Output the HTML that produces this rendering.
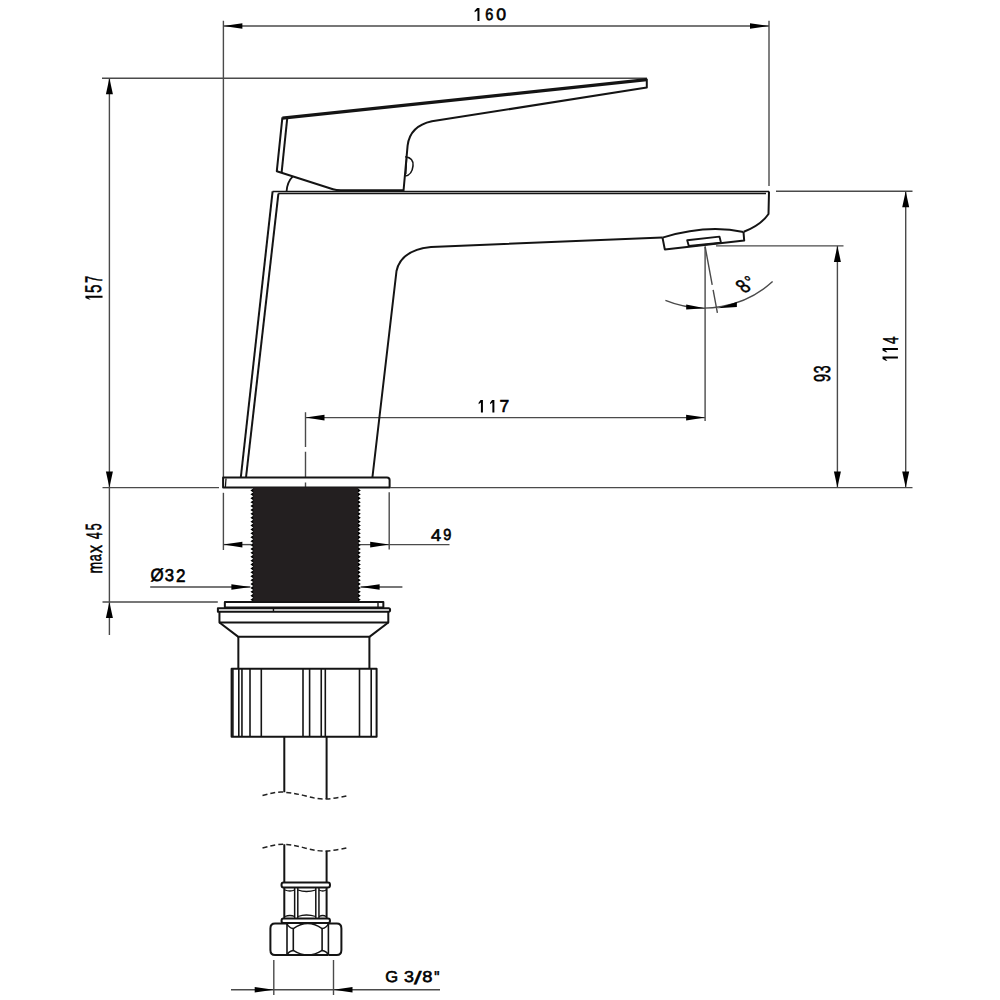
<!DOCTYPE html>
<html><head><meta charset="utf-8"><title>Faucet drawing</title>
<style>html,body{margin:0;padding:0;background:#fff;width:1000px;height:1000px;overflow:hidden}svg{display:block}</style>
</head><body>
<svg width="1000" height="1000" viewBox="0 0 1000 1000">
<rect width="1000" height="1000" fill="#fff"/>
<line x1="223.4" y1="20.8" x2="223.4" y2="477.5" stroke="#4a4a4a" stroke-width="1.4" />
<line x1="769" y1="20.8" x2="769" y2="186" stroke="#4a4a4a" stroke-width="1.4" />
<line x1="223.4" y1="26" x2="769" y2="26" stroke="#4a4a4a" stroke-width="1.4" />
<polygon points="223.40,26.00 242.40,23.20 242.40,28.80" fill="#000"/>
<polygon points="769.00,26.00 750.00,23.20 750.00,28.80" fill="#000"/>
<line x1="102" y1="78.3" x2="647" y2="78.3" stroke="#4a4a4a" stroke-width="1.4" />
<line x1="109.4" y1="78.3" x2="109.4" y2="635" stroke="#4a4a4a" stroke-width="1.4" />
<polygon points="109.40,78.30 105.90,94.30 112.90,94.30" fill="#000"/>
<polygon points="109.40,487.50 105.90,471.50 112.90,471.50" fill="#000"/>
<polygon points="109.40,602.00 105.90,618.00 112.90,618.00" fill="#000"/>
<line x1="102.5" y1="487.6" x2="219" y2="487.6" stroke="#4a4a4a" stroke-width="1.4" />
<line x1="390.3" y1="487.6" x2="912.5" y2="487.6" stroke="#4a4a4a" stroke-width="1.4" />
<line x1="102.5" y1="602" x2="217.8" y2="602" stroke="#4a4a4a" stroke-width="1.4" />
<line x1="776" y1="191.3" x2="912.5" y2="191.3" stroke="#4a4a4a" stroke-width="1.4" />
<line x1="905.7" y1="191.3" x2="905.7" y2="487.6" stroke="#4a4a4a" stroke-width="1.4" />
<polygon points="905.70,191.30 902.20,207.30 909.20,207.30" fill="#000"/>
<polygon points="905.70,487.60 902.20,471.60 909.20,471.60" fill="#000"/>
<line x1="716" y1="245.9" x2="843.5" y2="245.9" stroke="#4a4a4a" stroke-width="1.4" />
<line x1="837.4" y1="245.9" x2="837.4" y2="487.6" stroke="#4a4a4a" stroke-width="1.4" />
<polygon points="837.40,245.90 833.90,261.90 840.90,261.90" fill="#000"/>
<polygon points="837.40,487.60 833.90,471.60 840.90,471.60" fill="#000"/>
<line x1="305.5" y1="417.6" x2="705.1" y2="417.6" stroke="#4a4a4a" stroke-width="1.4" />
<polygon points="305.50,417.60 324.50,414.80 324.50,420.40" fill="#000"/>
<polygon points="705.10,417.60 686.10,414.80 686.10,420.40" fill="#000"/>
<line x1="705.1" y1="246.5" x2="705.1" y2="421" stroke="#4a4a4a" stroke-width="1.4" />
<path d="M305.5 412.2 V447 M305.5 451.8 V478 M305.5 482.4 V487.4" stroke="#4a4a4a" stroke-width="1.4" fill="none"/>
<line x1="223.4" y1="492.8" x2="223.4" y2="550" stroke="#4a4a4a" stroke-width="1.4" />
<line x1="389.2" y1="492.2" x2="389.2" y2="549.5" stroke="#4a4a4a" stroke-width="1.4" />
<line x1="223.4" y1="544.6" x2="251" y2="544.6" stroke="#4a4a4a" stroke-width="1.4" />
<line x1="360" y1="544.6" x2="449.5" y2="544.6" stroke="#4a4a4a" stroke-width="1.4" />
<polygon points="223.40,544.60 242.40,541.80 242.40,547.40" fill="#000"/>
<polygon points="389.20,544.60 370.20,541.80 370.20,547.40" fill="#000"/>
<line x1="150.2" y1="587" x2="250.4" y2="587" stroke="#4a4a4a" stroke-width="1.4" />
<line x1="360.6" y1="587" x2="402.4" y2="587" stroke="#4a4a4a" stroke-width="1.4" />
<polygon points="250.40,587.00 231.40,584.20 231.40,589.80" fill="#000"/>
<polygon points="360.60,587.00 379.60,584.20 379.60,589.80" fill="#000"/>
<line x1="273.8" y1="960" x2="273.8" y2="995" stroke="#4a4a4a" stroke-width="1.4" />
<line x1="333.5" y1="960" x2="333.5" y2="995" stroke="#4a4a4a" stroke-width="1.4" />
<line x1="231" y1="989.8" x2="440" y2="989.8" stroke="#4a4a4a" stroke-width="1.4" />
<polygon points="273.70,989.80 254.70,987.00 254.70,992.60" fill="#000"/>
<polygon points="333.50,989.80 352.50,987.00 352.50,992.60" fill="#000"/>
<line x1="705.1" y1="246.5" x2="717.4" y2="312.8" stroke="#4a4a4a" stroke-width="1.4" stroke-dasharray="39 5 40"/>
<path d="M665.4 300.4 A102 102 0 0 0 772.6 281.6" stroke="#4a4a4a" stroke-width="1.4" fill="none"/>
<polygon points="705.10,308.30 686.20,304.60 686.20,309.60" fill="#000"/>
<polygon points="717.40,308.30 736.90,302.00 736.90,307.00" fill="#000"/>
<path d="M282.4 118.2 L646.8 79.6" stroke="#141414" stroke-width="3.3" fill="none" stroke-linejoin="round" />
<path d="M282.4 117.3 L276.8 171.2 L333 189.3 Q336 190.2 341 190.2 L404 190.2" stroke="#141414" stroke-width="2.0" fill="none" stroke-linejoin="round" />
<path d="M287.2 118.7 L281.6 172.6" stroke="#141414" stroke-width="2.0" fill="none" stroke-linejoin="round" />
<path d="M646.8 78.8 L646.8 87.6 L431.9 121.3 Q410 126 407.6 145.6 L403.5 191" stroke="#141414" stroke-width="2.0" fill="none" stroke-linejoin="round" />
<path d="M405.2 156.8 Q414 158 413 166 Q412 175 405.2 176" stroke="#141414" stroke-width="1.6" fill="none" stroke-linejoin="round" />
<path d="M406.6 158.5 L405.8 174" stroke="#141414" stroke-width="1.4" fill="none" stroke-linejoin="round" />
<path d="M292.6 176.6 Q287.2 182 286.6 191.2" stroke="#141414" stroke-width="1.8" fill="none" stroke-linejoin="round" />
<path d="M272.6 191.4 L769 191.4" stroke="#141414" stroke-width="1.5" fill="none" stroke-linejoin="round" />
<path d="M278.2 193.5 L766 193.5" stroke="#141414" stroke-width="1.5" fill="none" stroke-linejoin="round" />
<path d="M272.6 191.4 L240.8 477.5" stroke="#141414" stroke-width="2.0" fill="none" stroke-linejoin="round" />
<path d="M278.4 193.6 L246 477.5" stroke="#141414" stroke-width="2.0" fill="none" stroke-linejoin="round" />
<path d="M769 191.4 L768.5 214 Q761 225 743.8 231.8" stroke="#141414" stroke-width="2.0" fill="none" stroke-linejoin="round" />
<path d="M743.5 232 Q707 224 662.5 237.6" stroke="#141414" stroke-width="2.0" fill="none" stroke-linejoin="round" />
<path d="M662.5 237.6 L664.8 249.4 L744.2 240.6 L743.5 232" stroke="#141414" stroke-width="2.0" fill="none" stroke-linejoin="round" />
<path d="M687.2 240.2 L719.5 236.6 L721 242.8 L688.8 246 Z" stroke="#141414" stroke-width="1.9" fill="none" stroke-linejoin="round" />
<path d="M662.5 237.6 L431 247 Q401 250 396.5 271 L372.4 477.5" stroke="#141414" stroke-width="2.0" fill="none" stroke-linejoin="round" />
<path d="M223.1 477.5 H387 Q389.6 477.5 389.6 480 V487.4 H223.1 Z" stroke="#141414" stroke-width="2.0" fill="none" stroke-linejoin="round" />
<path d="M226 478.5 L225.4 487" stroke="#141414" stroke-width="1.3" fill="none" stroke-linejoin="round" />
<rect x="253" y="487.4" width="105.2" height="114" fill="#231f20"/>
<path d="M253.2 488.5 l-2.8 1.95 l2.8 1.95 Z M358 488.5 l2.8 1.95 l-2.8 1.95 Z M253.2 492.4 l-2.8 1.95 l2.8 1.95 Z M358 492.4 l2.8 1.95 l-2.8 1.95 Z M253.2 496.3 l-2.8 1.95 l2.8 1.95 Z M358 496.3 l2.8 1.95 l-2.8 1.95 Z M253.2 500.2 l-2.8 1.95 l2.8 1.95 Z M358 500.2 l2.8 1.95 l-2.8 1.95 Z M253.2 504.1 l-2.8 1.95 l2.8 1.95 Z M358 504.1 l2.8 1.95 l-2.8 1.95 Z M253.2 508.0 l-2.8 1.95 l2.8 1.95 Z M358 508.0 l2.8 1.95 l-2.8 1.95 Z M253.2 511.9 l-2.8 1.95 l2.8 1.95 Z M358 511.9 l2.8 1.95 l-2.8 1.95 Z M253.2 515.8 l-2.8 1.95 l2.8 1.95 Z M358 515.8 l2.8 1.95 l-2.8 1.95 Z M253.2 519.7 l-2.8 1.95 l2.8 1.95 Z M358 519.7 l2.8 1.95 l-2.8 1.95 Z M253.2 523.6 l-2.8 1.95 l2.8 1.95 Z M358 523.6 l2.8 1.95 l-2.8 1.95 Z M253.2 527.5 l-2.8 1.95 l2.8 1.95 Z M358 527.5 l2.8 1.95 l-2.8 1.95 Z M253.2 531.4 l-2.8 1.95 l2.8 1.95 Z M358 531.4 l2.8 1.95 l-2.8 1.95 Z M253.2 535.3 l-2.8 1.95 l2.8 1.95 Z M358 535.3 l2.8 1.95 l-2.8 1.95 Z M253.2 539.2 l-2.8 1.95 l2.8 1.95 Z M358 539.2 l2.8 1.95 l-2.8 1.95 Z M253.2 543.1 l-2.8 1.95 l2.8 1.95 Z M358 543.1 l2.8 1.95 l-2.8 1.95 Z M253.2 547.0 l-2.8 1.95 l2.8 1.95 Z M358 547.0 l2.8 1.95 l-2.8 1.95 Z M253.2 550.9 l-2.8 1.95 l2.8 1.95 Z M358 550.9 l2.8 1.95 l-2.8 1.95 Z M253.2 554.8 l-2.8 1.95 l2.8 1.95 Z M358 554.8 l2.8 1.95 l-2.8 1.95 Z M253.2 558.7 l-2.8 1.95 l2.8 1.95 Z M358 558.7 l2.8 1.95 l-2.8 1.95 Z M253.2 562.6 l-2.8 1.95 l2.8 1.95 Z M358 562.6 l2.8 1.95 l-2.8 1.95 Z M253.2 566.5 l-2.8 1.95 l2.8 1.95 Z M358 566.5 l2.8 1.95 l-2.8 1.95 Z M253.2 570.4 l-2.8 1.95 l2.8 1.95 Z M358 570.4 l2.8 1.95 l-2.8 1.95 Z M253.2 574.3 l-2.8 1.95 l2.8 1.95 Z M358 574.3 l2.8 1.95 l-2.8 1.95 Z M253.2 578.2 l-2.8 1.95 l2.8 1.95 Z M358 578.2 l2.8 1.95 l-2.8 1.95 Z M253.2 582.1 l-2.8 1.95 l2.8 1.95 Z M358 582.1 l2.8 1.95 l-2.8 1.95 Z M253.2 586.0 l-2.8 1.95 l2.8 1.95 Z M358 586.0 l2.8 1.95 l-2.8 1.95 Z M253.2 589.9 l-2.8 1.95 l2.8 1.95 Z M358 589.9 l2.8 1.95 l-2.8 1.95 Z M253.2 593.8 l-2.8 1.95 l2.8 1.95 Z M358 593.8 l2.8 1.95 l-2.8 1.95 Z M253.2 597.7 l-2.8 1.95 l2.8 1.95 Z M358 597.7 l2.8 1.95 l-2.8 1.95 Z" fill="#000" stroke="none"/>
<path d="M224.85 602 H383.35 V607.6 H224.85 Z" stroke="#141414" stroke-width="2.0" fill="none" stroke-linejoin="round" />
<path d="M378 602.5 V607.2" stroke="#141414" stroke-width="1.4" fill="none" stroke-linejoin="round" />
<path d="M217.9 608.3 H388.6 Q390.1 608.3 390.1 610 Q390.1 611.65 388.6 611.65 H217.9 Q217.9 610 217.9 608.3 Z" stroke="#141414" stroke-width="2.0" fill="none" stroke-linejoin="round" />
<path d="M273.45 608.3 V611.6" stroke="#141414" stroke-width="1.4" fill="none" stroke-linejoin="round" />
<path d="M219.45 611.65 V622.45 H388.3 V611.65" stroke="#141414" stroke-width="2.0" fill="none" stroke-linejoin="round" />
<path d="M219.45 622.45 L238.35 636.85 H369.4 L388.3 622.45" stroke="#141414" stroke-width="2.0" fill="none" stroke-linejoin="round" />
<path d="M238.35 636.85 V668.8 M369.4 636.85 V668.8" stroke="#141414" stroke-width="2.0" fill="none" stroke-linejoin="round" />
<path d="M231.6 668.8 H376.6 V736.8 H231.6 Z" stroke="#141414" stroke-width="2.0" fill="none" stroke-linejoin="round" />
<path d="M232.9 669 V736.6" stroke="#141414" stroke-width="1.6" fill="none" stroke-linejoin="round" />
<path d="M238.8 669 V736.6" stroke="#141414" stroke-width="1.6" fill="none" stroke-linejoin="round" />
<path d="M241.95 669 V736.6" stroke="#141414" stroke-width="1.6" fill="none" stroke-linejoin="round" />
<path d="M250 669 V736.6" stroke="#141414" stroke-width="1.6" fill="none" stroke-linejoin="round" />
<path d="M261.3 669 V736.6" stroke="#141414" stroke-width="1.6" fill="none" stroke-linejoin="round" />
<path d="M303 669 V736.6" stroke="#141414" stroke-width="1.6" fill="none" stroke-linejoin="round" />
<path d="M309.6 669 V736.6" stroke="#141414" stroke-width="1.6" fill="none" stroke-linejoin="round" />
<path d="M321.25 669 V736.6" stroke="#141414" stroke-width="1.6" fill="none" stroke-linejoin="round" />
<path d="M325.3 669 V736.6" stroke="#141414" stroke-width="1.6" fill="none" stroke-linejoin="round" />
<path d="M359.5 669 V736.6" stroke="#141414" stroke-width="1.6" fill="none" stroke-linejoin="round" />
<path d="M371.2 669 V736.6" stroke="#141414" stroke-width="1.6" fill="none" stroke-linejoin="round" />
<path d="M284.3 736.8 V792.2 M326.6 736.8 V799" stroke="#141414" stroke-width="2.0" fill="none" stroke-linejoin="round" />
<path d="M262.5 795.5 C272 793 278 791.5 284 792.2 C292 793 298 794 305 795.8 C313 798 320 799.5 326.5 799 C334 798.5 342 797 348.5 795.5" stroke="#222" stroke-width="1.5" fill="none" stroke-dasharray="5 3"/>
<path d="M262.5 848 C272 845.5 278 844 284 844.2 C292 845 298 846 305 848 C313 850 320 851.5 326.5 851 C334 850.5 342 849 348.5 847.5" stroke="#222" stroke-width="1.5" fill="none" stroke-dasharray="5 3"/>
<path d="M284.3 844.2 V882.6 M326.6 851 V882.6" stroke="#141414" stroke-width="2.0" fill="none" stroke-linejoin="round" />
<path d="M283.5 882.6 H328 Q330 882.6 330 885 Q330 887.5 328 887.5 H283.5 Q281.5 887.5 281.5 885 Q281.5 882.6 283.5 882.6 Z" stroke="#141414" stroke-width="2.0" fill="none" stroke-linejoin="round" />
<path d="M284.3 887.5 V918.6 M326.6 887.5 V918.6" stroke="#141414" stroke-width="2.0" fill="none" stroke-linejoin="round" />
<path d="M294.65 888 V918 M297.8 888 V918 M315.8 888 V918 M318.95 888 V918" stroke="#141414" stroke-width="1.5" fill="none" stroke-linejoin="round" />
<path d="M285 890 Q290 892 294.6 890 M298 890 Q306 893 315.8 890 M319 890 Q323 892 326 890" stroke="#141414" stroke-width="1.3" fill="none" stroke-linejoin="round" />
<path d="M285 916.5 Q290 914.5 294.6 916.5 M298 916.5 Q306 913.5 315.8 916.5 M319 916.5 Q323 914.5 326 916.5" stroke="#141414" stroke-width="1.3" fill="none" stroke-linejoin="round" />
<path d="M283.5 918.6 H328 Q330 918.6 330 921 Q330 923.1 328 923.1 H283.5 Q281.5 923.1 281.5 921 Q281.5 918.6 283.5 918.6 Z" stroke="#141414" stroke-width="2.0" fill="none" stroke-linejoin="round" />
<path d="M287 923.6 H275 Q270.4 923.6 270.4 928.5 V950 Q270.4 955 275 955 H287" stroke="#141414" stroke-width="2.0" fill="none" stroke-linejoin="round" />
<path d="M328.4 923.6 H336.8 Q341.4 923.6 341.4 928.5 V950 Q341.4 955 336.8 955 H328.4" stroke="#141414" stroke-width="2.0" fill="none" stroke-linejoin="round" />
<path d="M287 955 H328.4" stroke="#141414" stroke-width="2.0" fill="none" stroke-linejoin="round" />
<path d="M287 923.6 V955 M328.4 923.6 V955" stroke="#141414" stroke-width="1.6" fill="none" stroke-linejoin="round" />
<path d="M293.3 928.6 V950.4 M322.1 928.6 V950.4" stroke="#141414" stroke-width="1.6" fill="none" stroke-linejoin="round" />
<path d="M287 923.8 Q289 928 293.3 928.6 Q307.7 918.4 322.1 928.6 Q326.4 928 328.4 923.8" stroke="#141414" stroke-width="1.5" fill="none" stroke-linejoin="round" />
<path d="M287 954.8 Q289 950.8 293.3 950.4 Q307.7 959.8 322.1 950.4 Q326.4 950.8 328.4 954.8" stroke="#141414" stroke-width="1.5" fill="none" stroke-linejoin="round" />
<polygon points="0.507,0.000 1.000,0.000 1.000,1.000 0.587,1.000 0.587,0.190 0.000,0.335 0.000,0.220" fill="#000" transform="matrix(4.840,0,0,13.000,474.62,8.00)"/>
<text x="0" y="0" font-size="100" font-family="Liberation Sans, sans-serif" text-rendering="geometricPrecision" fill="#000" stroke="#000" stroke-width="3.85" transform="translate(485.19,19.83) scale(0.1457,0.1659)">6</text>
<text x="0" y="0" font-size="100" font-family="Liberation Sans, sans-serif" text-rendering="geometricPrecision" fill="#000" stroke="#000" stroke-width="3.50" transform="translate(496.13,19.83) scale(0.1768,0.1659)">0</text>
<polygon points="0.455,0.000 1.000,0.000 1.000,1.000 0.535,1.000 0.535,0.197 0.000,0.340 0.000,0.220" fill="#000" transform="matrix(4.300,0,0,12.460,478.62,400.08)"/>
<polygon points="0.455,0.000 1.000,0.000 1.000,1.000 0.535,1.000 0.535,0.197 0.000,0.340 0.000,0.220" fill="#000" transform="matrix(4.300,0,0,12.460,490.08,400.08)"/>
<text x="0" y="0" font-size="100" font-family="Liberation Sans, sans-serif" text-rendering="geometricPrecision" fill="#000" stroke="#000" stroke-width="3.45" transform="translate(499.43,412.24) scale(0.1745,0.1730)">7</text>
<text x="0" y="0" font-size="100" font-family="Liberation Sans, sans-serif" text-rendering="geometricPrecision" fill="#000" stroke="#000" stroke-width="3.41" transform="translate(431.04,540.66) scale(0.1818,0.1702)">4</text>
<text x="0" y="0" font-size="100" font-family="Liberation Sans, sans-serif" text-rendering="geometricPrecision" fill="#000" stroke="#000" stroke-width="3.90" transform="translate(443.18,539.53) scale(0.1458,0.1615)">9</text>
<text x="0" y="0" font-size="100" font-family="Liberation Sans, sans-serif" text-rendering="geometricPrecision" fill="#000" stroke="#000" stroke-width="3.45" transform="translate(150.40,581.17) scale(0.1694,0.1789)">Ø</text>
<text x="0" y="0" font-size="100" font-family="Liberation Sans, sans-serif" text-rendering="geometricPrecision" fill="#000" stroke="#000" stroke-width="3.53" transform="translate(164.63,580.91) scale(0.1672,0.1724)">3</text>
<text x="0" y="0" font-size="100" font-family="Liberation Sans, sans-serif" text-rendering="geometricPrecision" fill="#000" stroke="#000" stroke-width="3.40" transform="translate(175.91,581.55) scale(0.1710,0.1816)">2</text>
<text x="0" y="0" font-size="100" font-family="Liberation Sans, sans-serif" text-rendering="geometricPrecision" fill="#000" stroke="#000" stroke-width="3.72" transform="translate(385.25,982.35) scale(0.1646,0.1583)">G</text>
<text x="0" y="0" font-size="100" font-family="Liberation Sans, sans-serif" text-rendering="geometricPrecision" fill="#000" stroke="#000" stroke-width="3.56" transform="translate(404.05,982.35) scale(0.1787,0.1583)">3</text>
<text x="0" y="0" font-size="100" font-family="Liberation Sans, sans-serif" text-rendering="geometricPrecision" fill="#000" stroke="#000" stroke-width="2.66" transform="translate(413.99,983.51) scale(0.2720,0.1790)">/</text>
<text x="0" y="0" font-size="100" font-family="Liberation Sans, sans-serif" text-rendering="geometricPrecision" fill="#000" stroke="#000" stroke-width="3.51" transform="translate(422.16,982.35) scale(0.1836,0.1583)">8</text>
<text x="0" y="0" font-size="100" font-family="Liberation Sans, sans-serif" text-rendering="geometricPrecision" fill="#000" stroke="#000" stroke-width="3.82" transform="translate(434.18,982.95) scale(0.1457,0.1688)">&quot;</text>
<polygon points="0.405,0.000 1.000,0.000 1.000,1.000 0.485,1.000 0.485,0.154 0.000,0.308 0.000,0.220" fill="#000" transform="matrix(0,-3.885,17.080,0,85.46,299.57)"/>
<text x="0" y="0" font-size="100" font-family="Liberation Sans, sans-serif" text-rendering="geometricPrecision" fill="#000" stroke="#000" stroke-width="2.38" transform="translate(101.39,292.92) rotate(-90) scale(0.1509,0.2276)">5</text>
<text x="0" y="0" font-size="100" font-family="Liberation Sans, sans-serif" text-rendering="geometricPrecision" fill="#000" stroke="#000" stroke-width="2.42" transform="translate(102.32,283.05) rotate(-90) scale(0.1305,0.2410)">7</text>
<text x="0" y="0" font-size="100" font-family="Liberation Sans, sans-serif" text-rendering="geometricPrecision" fill="#000" stroke="#000" stroke-width="2.56" transform="translate(102.08,573.62) rotate(-90) scale(0.1419,0.2096)">m</text>
<text x="0" y="0" font-size="100" font-family="Liberation Sans, sans-serif" text-rendering="geometricPrecision" fill="#000" stroke="#000" stroke-width="2.78" transform="translate(101.42,561.27) rotate(-90) scale(0.1269,0.1973)">a</text>
<text x="0" y="0" font-size="100" font-family="Liberation Sans, sans-serif" text-rendering="geometricPrecision" fill="#000" stroke="#000" stroke-width="2.39" transform="translate(102.08,553.10) rotate(-90) scale(0.1623,0.2136)">x</text>
<text x="0" y="0" font-size="100" font-family="Liberation Sans, sans-serif" text-rendering="geometricPrecision" fill="#000" stroke="#000" stroke-width="2.61" transform="translate(102.32,539.08) rotate(-90) scale(0.1202,0.2242)">4</text>
<text x="0" y="0" font-size="100" font-family="Liberation Sans, sans-serif" text-rendering="geometricPrecision" fill="#000" stroke="#000" stroke-width="2.63" transform="translate(101.39,530.26) rotate(-90) scale(0.1217,0.2210)">5</text>
<text x="0" y="0" font-size="100" font-family="Liberation Sans, sans-serif" text-rendering="geometricPrecision" fill="#000" stroke="#000" stroke-width="2.40" transform="translate(830.39,381.89) rotate(-90) scale(0.1458,0.2297)">9</text>
<text x="0" y="0" font-size="100" font-family="Liberation Sans, sans-serif" text-rendering="geometricPrecision" fill="#000" stroke="#000" stroke-width="2.43" transform="translate(830.39,373.34) rotate(-90) scale(0.1401,0.2297)">3</text>
<polygon points="0.447,0.000 1.000,0.000 1.000,1.000 0.527,1.000 0.527,0.167 0.000,0.318 0.000,0.220" fill="#000" transform="matrix(0,-4.230,15.380,0,882.54,360.77)"/>
<polygon points="0.447,0.000 1.000,0.000 1.000,1.000 0.527,1.000 0.527,0.167 0.000,0.318 0.000,0.220" fill="#000" transform="matrix(0,-4.230,15.380,0,882.54,352.31)"/>
<text x="0" y="0" font-size="100" font-family="Liberation Sans, sans-serif" text-rendering="geometricPrecision" fill="#000" stroke="#000" stroke-width="2.58" transform="translate(897.61,343.95) rotate(-90) scale(0.1354,0.2141)">4</text>
<g transform="translate(742.9,286.1) scale(1.28,1) rotate(-40) scale(0.74,1)"><text x="-5.32" y="6.56" font-size="19" font-family="Liberation Sans, sans-serif" text-rendering="geometricPrecision" fill="#000" stroke="#000" stroke-width="0.5">8</text><text x="7.0" y="5.8" font-size="17" font-family="Liberation Sans, sans-serif" text-rendering="geometricPrecision" fill="#000" stroke="#000" stroke-width="0.4">°</text></g>
</svg>
</body></html>
